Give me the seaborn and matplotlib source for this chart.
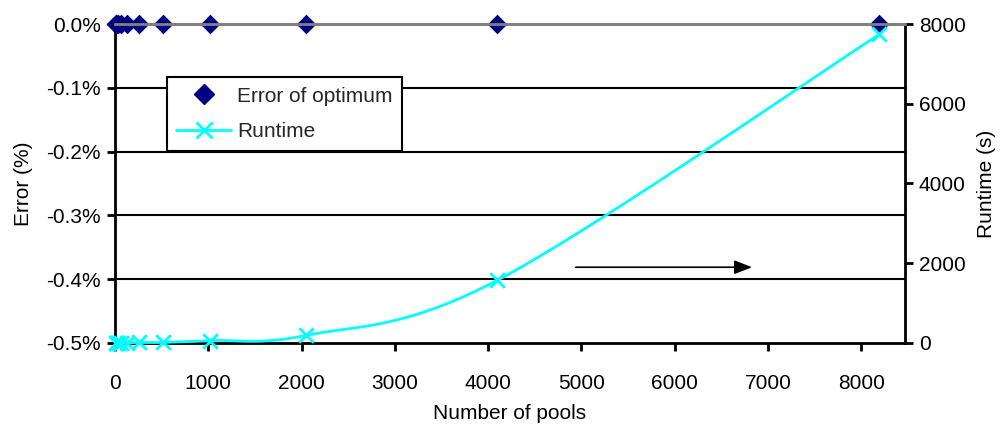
import numpy as np
import pandas as pd
import matplotlib
matplotlib.use("Agg")
import matplotlib.pyplot as plt
import seaborn as sns
from matplotlib.lines import Line2D

# ---- data ----
pools = [8, 16, 32, 64, 128, 256, 512, 1024, 2048, 4096, 8192]
error_pct = [0, 0, 0, 0, 0, 0, 0, 0, 0, 0, 0]
runtime_s = [1, 2, 3, 5, 8, 12, 15, 60, 190, 1570, 7740]
left_ticks = [0.0, -0.1, -0.2, -0.3, -0.4, -0.5]
right_ticks = [0, 2000, 4000, 6000, 8000]
x_ticks = [0, 1000, 2000, 3000, 4000, 5000, 6000, 7000, 8000]

sns.set_theme(style="white")
plt.rcParams['font.family'] = ['Liberation Sans', 'DejaVu Sans']
FS = 15


def excel_smooth(x, y, n=40):
    pts = np.column_stack([np.asarray(x, float), np.asarray(y, float)])
    m = len(pts)
    out = []
    for i in range(m - 1):
        p0 = pts[i - 1] if i > 0 else pts[i]
        p1 = pts[i]
        p2 = pts[i + 1]
        p3 = pts[i + 2] if i + 2 < m else pts[i + 1]
        c1 = p1 + (p2 - p0) / 6.0
        c2 = p2 - (p3 - p1) / 6.0
        t = np.linspace(0, 1, n)[:, None]
        seg = ((1 - t) ** 3) * p1 + 3 * ((1 - t) ** 2) * t * c1 + 3 * (1 - t) * t ** 2 * c2 + t ** 3 * p2
        out.append(seg if i == 0 else seg[1:])
    out = np.vstack(out)
    return out[:, 0], out[:, 1]


fig = plt.figure(figsize=(10.04, 4.25), dpi=100)
ax = fig.add_axes([0.1145, 0.193, 0.787, 0.7505])
ax2 = ax.twinx()

df_err = pd.DataFrame({"pools": pools, "error": error_pct})
df_rt = pd.DataFrame({"pools": pools, "runtime": runtime_s})
sx, sy = excel_smooth(pools, runtime_s)
df_smooth = pd.DataFrame({"x": sx, "y": sy})

ax.set_xlim(0, 8470)
ax.set_ylim(-0.5, 0.0)
ax.set_yticks(left_ticks)
ax.set_yticklabels([f"{v:.1f}%" for v in left_ticks])
ax.set_xticks(x_ticks)
ax.set_xticklabels([str(v) for v in x_ticks])
for v in left_ticks[1:-1]:
    ax.axhline(v, color="black", lw=1.5, zorder=1)

sns.scatterplot(data=df_err, x="pools", y="error", ax=ax, marker="D", s=100,
                color="#000080", edgecolor="#000080", linewidth=0, zorder=5, clip_on=False, legend=False)

ax2.set_ylim(0, 8000)
ax2.set_yticks(right_ticks)
ax2.set_yticklabels([str(v) for v in right_ticks])
sns.lineplot(data=df_smooth, x="x", y="y", ax=ax2, color="#00FFFF", lw=2, sort=False,
             estimator=None, clip_on=False, legend=False, zorder=4)
sns.scatterplot(data=df_rt, x="pools", y="runtime", ax=ax2, marker="x", s=110,
                color="#00FFFF", linewidth=2, zorder=5, clip_on=False, legend=False)
ax2.set_xlim(0, 8470)

ax2.annotate("", xy=(6860, 1900), xytext=(4910, 1900),
             arrowprops=dict(arrowstyle="-|>,head_length=0.9,head_width=0.35", color="black", lw=1.2))

for a in (ax, ax2):
    for s in ("left", "right", "bottom"):
        a.spines[s].set_color("black")
        a.spines[s].set_linewidth(2)
    a.spines["top"].set_color("#808080")
    a.spines["top"].set_linewidth(2)
ax.spines["right"].set_visible(False)
ax2.spines["left"].set_visible(False)
ax2.spines["bottom"].set_visible(False)

ax.tick_params(axis="both", direction="out", length=6, width=2, color="black", labelsize=FS,
               labelcolor="black", pad=4)
ax.tick_params(axis="y", right=False, left=True)
ax.tick_params(axis="x", bottom=True, top=False, pad=16)
ax2.tick_params(axis="y", direction="out", length=6, width=2, color="black", labelsize=FS,
                labelcolor="black", right=True, left=False, pad=4)

ax.set_xlabel("Number of pools", fontsize=FS, color="black", labelpad=8)
ax.set_ylabel("Error (%)", fontsize=FS, color="black", labelpad=10)
ax2.set_ylabel("Runtime (s)", fontsize=FS, color="black", labelpad=8)

handles = [
    Line2D([], [], marker="D", color="#000080", linestyle="none", markersize=10),
    Line2D([], [], marker="x", color="#00FFFF", lw=2, markersize=11, markeredgewidth=2),
]
leg = ax2.legend(handles, ["Error of optimum", "Runtime"], loc="upper left",
                 bbox_to_anchor=(0.066, 0.833), fontsize=FS, frameon=True, fancybox=False,
                 borderpad=0.45, handlelength=2.6, handletextpad=0.3,
                 labelspacing=0.8, borderaxespad=0)
leg.get_frame().set_edgecolor("black")
leg.get_frame().set_linewidth(1.5)
leg.get_frame().set_facecolor("white")
leg.get_frame().set_alpha(1)

fig.savefig("out.png", dpi=100)
